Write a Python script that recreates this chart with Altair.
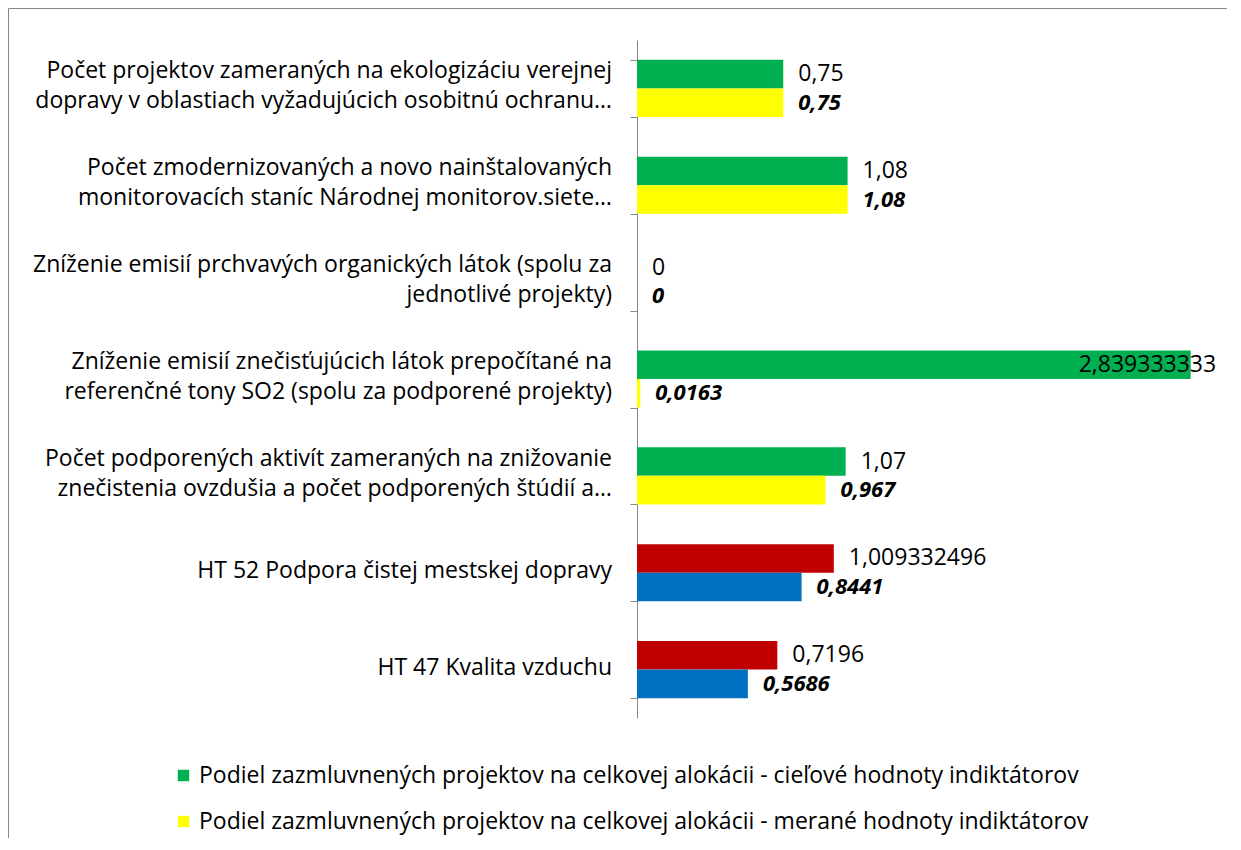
import altair as alt
import pandas as pd

categories = [
    "Počet projektov zameraných na ekologizáciu verejnej|dopravy v oblastiach vyžadujúcich osobitnú ochranu…",
    "Počet zmodernizovaných a novo nainštalovaných|monitorovacích staníc Národnej monitorov.siete…",
    "Zníženie emisií prchvavých organických látok (spolu za|jednotlivé projekty)",
    "Zníženie emisií znečisťujúcich látok prepočítané na|referenčné tony SO2 (spolu za podporené projekty)",
    "Počet podporených aktivít zameraných na znižovanie|znečistenia ovzdušia a počet podporených štúdií a…",
    "HT 52 Podpora čistej mestskej dopravy",
    "HT 47 Kvalita vzduchu",
]
target_values = [0.75, 1.08, 0, 2.839333333, 1.07, 1.009332496, 0.7196]
measured_values = [0.75, 1.08, 0, 0.0163, 0.967, 0.8441, 0.5686]
is_ht = [False, False, False, False, False, True, True]

legend_names = [
    "Podiel zazmluvnených projektov na celkovej alokácii - cieľové hodnoty indiktátorov",
    "Podiel zazmluvnených projektov na celkovej alokácii - merané hodnoty  indiktátorov",
    "HT - cieľová hodnota",
    "HT - meraná hodnota",
]
colors = ["#00B050", "#FFFF00", "#C00000", "#0070C0"]

rows = []
for c, t, m, h in zip(categories, target_values, measured_values, is_ht):
    rows.append({"category": c, "series": "target", "value": t,
                 "legend": legend_names[2] if h else legend_names[0]})
    rows.append({"category": c, "series": "measured", "value": m,
                 "legend": legend_names[3] if h else legend_names[1]})
df = pd.DataFrame(rows)
cat_df = pd.DataFrame({"category": categories})

FONT = "Open Sans"
FS = 23
W, H = 585, 678

y_enc = alt.Y("category:N", sort=categories,
              scale=alt.Scale(paddingInner=0.41, paddingOuter=0.205),
              axis=alt.Axis(title=None, labels=False,
                            tickBand="extent", tickSize=7, tickColor="#888888",
                            domainColor="#888888", grid=False))
yoff = alt.YOffset("series:N", sort=["target", "measured"])
x_enc = alt.X("value:Q", scale=alt.Scale(domain=[0, 3], nice=False), axis=None)

base = alt.Chart(df).transform_calculate(
    label="replace(toString(datum.value), '.', ',')"
)

bars = base.mark_bar().encode(
    y=y_enc, yOffset=yoff, x=x_enc,
    color=alt.Color("legend:N",
                    scale=alt.Scale(domain=legend_names, range=colors),
                    legend=alt.Legend(values=legend_names[:2], title=None,
                                      orient="none", legendX=-465, legendY=724,
                                      direction="vertical",
                                      labelFont=FONT, labelFontSize=FS,
                                      labelColor="#000000", labelLimit=1200,
                                      symbolType="square", symbolSize=130,
                                      symbolStrokeWidth=0, labelOffset=4,
                                      rowPadding=22)),
)

txt_target = base.transform_filter(
    "datum.series == 'target' && datum.value < 2"
).mark_text(align="left", baseline="middle", dx=15, font=FONT, fontSize=FS,
            color="#000000").encode(y=y_enc, yOffset=yoff, x=x_enc, text="label:N")

txt_target_big = base.transform_filter(
    "datum.series == 'target' && datum.value >= 2"
).mark_text(align="left", baseline="middle", dx=-112, font=FONT, fontSize=FS,
            color="#000000").encode(y=y_enc, yOffset=yoff, x=x_enc, text="label:N")

txt_measured = base.transform_filter(
    "datum.series == 'measured'"
).mark_text(align="left", baseline="middle", dx=15, font=FONT, fontSize=FS - 1,
            fontWeight="bold", fontStyle="italic", color="#000000").encode(
    y=y_enc, yOffset=yoff, x=x_enc, text="label:N")

cat_base = alt.Chart(cat_df).transform_calculate(
    lines="split(datum.category, '|')"
)
cat_two = cat_base.transform_filter("indexof(datum.category, '|') >= 0").mark_text(
    align="right", baseline="middle", dy=-17, lineHeight=30, font=FONT, fontSize=FS,
    color="#000000").encode(y=y_enc, x=alt.value(-25), text="lines:N")
cat_one = cat_base.transform_filter("indexof(datum.category, '|') < 0").mark_text(
    align="right", baseline="middle", dy=-2, font=FONT, fontSize=FS,
    color="#000000").encode(y=y_enc, x=alt.value(-25), text="category:N")

frame_df = pd.DataFrame({"k": [0]})
frame_left = alt.Chart(frame_df).mark_rule(color="#888888", strokeWidth=1).encode(
    x=alt.value(-628.5), y=alt.value(-31.5), y2=alt.value(H + 160))
frame_top = alt.Chart(frame_df).mark_rule(color="#888888", strokeWidth=1).encode(
    x=alt.value(-628.5), x2=alt.value(W + 60), y=alt.value(-31.5))

chart = alt.layer(frame_left, frame_top, bars, txt_target, txt_target_big, txt_measured,
                  cat_two, cat_one).properties(
    width=W, height=H,
    padding={"left": 629, "top": 32, "right": 5, "bottom": 120},
    autosize=alt.AutoSizeParams(type="none"),
    background="white",
).configure_view(strokeWidth=0)

chart.save("out.html", embed_options={"renderer": "svg", "actions": False})
